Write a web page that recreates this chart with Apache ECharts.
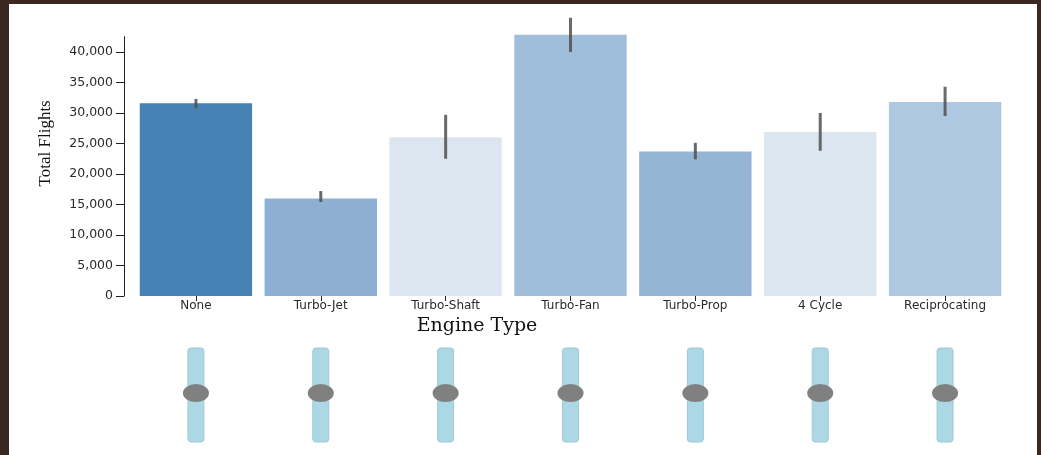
<!DOCTYPE html>
<html>
<head>
<meta charset="utf-8">
<script src="https://cdn.jsdelivr.net/npm/echarts@6/dist/echarts.min.js"></script>
<style>
  html, body { margin: 0; padding: 0; background: #3a2721; width: 1041px; height: 455px; overflow: hidden; }
  #panel { position: absolute; left: 9px; top: 4px; width: 1028px; height: 451px; background: #ffffff; }
  #chart { position: absolute; left: 0; top: 0; width: 1041px; height: 455px; }
</style>
</head>
<body>
<div id="panel"></div>
<div id="chart"></div>
<script>
// Flights per engine type, with the spread of each total
const engineTypes = ['None', 'Turbo-Jet', 'Turbo-Shaft', 'Turbo-Fan', 'Turbo-Prop', '4 Cycle', 'Reciprocating'];
const totalFlights = [31600, 16000, 26000, 42800, 23700, 26900, 31800];
const errorLow = [30800, 15400, 22500, 40000, 22400, 23800, 29500];
const errorHigh = [32300, 17200, 29700, 45600, 25100, 30000, 34300];
// Slider handle positions (0 = bottom, 1 = top)
const sliderPositions = [0.52, 0.52, 0.52, 0.52, 0.52, 0.52, 0.52];
// Y axis range and step
const yMax = 42500;
const yStep = 5000;

const barColors = ['#4682b4', '#8cafd2', '#dce6f0', '#9ebed9', '#94b5d4', '#dce6f0', '#adc8e0'];

const chart = echarts.init(document.getElementById('chart'), null, { renderer: 'canvas' });

const tickFont = { fontFamily: 'DejaVu Sans', fontSize: 12, color: '#2a2a2a' };

chart.setOption({
  backgroundColor: 'transparent',
  animation: false,
  grid: [
    { left: 133.5, right: 33.5, top: 36.7, bottom: 159, containLabel: false },
    { left: 133.5, right: 33.5, top: 348, bottom: 13, containLabel: false }
  ],
  xAxis: [
    {
      type: 'category',
      gridIndex: 0,
      data: engineTypes,
      name: 'Engine Type',
      nameLocation: 'middle',
      nameGap: 21,
      nameTextStyle: { fontFamily: 'DejaVu Serif', fontSize: 19, color: '#111', padding: [0, 187, 0, 0] },
      axisLine: { show: false },
      axisTick: { show: true, alignWithLabel: true, length: 5, lineStyle: { color: '#222' } },
      axisLabel: Object.assign({ margin: 4, interval: 0 }, tickFont),
      splitLine: { show: false }
    },
    {
      type: 'category',
      gridIndex: 1,
      data: engineTypes,
      show: false
    }
  ],
  yAxis: [
    {
      type: 'value',
      gridIndex: 0,
      min: 0,
      max: yMax,
      interval: yStep,
      offset: 9.5,
      name: 'Total Flights',
      nameLocation: 'middle',
      nameRotate: 90,
      nameGap: 70,
      nameTextStyle: { fontFamily: 'Liberation Serif', fontSize: 17, color: '#111', padding: [0, 0, 0, 46] },
      axisLine: { show: true, lineStyle: { color: '#222', width: 1 } },
      axisTick: { show: true, length: 8, lineStyle: { color: '#222' } },
      axisLabel: Object.assign({
        margin: 11,
        showMaxLabel: false,
        formatter: v => v.toLocaleString('en-US')
      }, tickFont, { fontSize: 12.5 }),
      splitLine: { show: false }
    },
    {
      type: 'value',
      gridIndex: 1,
      min: 0,
      max: 1,
      show: false
    }
  ],
  series: [
    {
      type: 'bar',
      xAxisIndex: 0,
      yAxisIndex: 0,
      barCategoryGap: '10%',
      clip: false,
      z: 2,
      data: totalFlights.map((v, i) => ({ value: v, itemStyle: { color: barColors[i] } }))
    },
    {
      type: 'custom',
      xAxisIndex: 0,
      yAxisIndex: 0,
      z: 5,
      data: engineTypes.map((_, i) => [i, errorLow[i], errorHigh[i]]),
      encode: { x: 0, y: [1, 2] },
      renderItem: (params, api) => {
        const lo = api.coord([api.value(0), api.value(1)]);
        const hi = api.coord([api.value(0), api.value(2)]);
        return {
          type: 'line',
          shape: { x1: lo[0], y1: lo[1], x2: hi[0], y2: hi[1] },
          style: { stroke: '#505050', lineWidth: 3, opacity: 0.85 }
        };
      }
    },
    {
      type: 'custom',
      xAxisIndex: 1,
      yAxisIndex: 1,
      data: sliderPositions.map((v, i) => [i, v]),
      encode: { x: 0, y: 1 },
      renderItem: (params, api) => {
        const i = api.value(0);
        const bottom = api.coord([i, 0]);
        const top = api.coord([i, 1]);
        const handle = api.coord([i, api.value(1)]);
        const w = 16;
        return {
          type: 'group',
          children: [
            {
              type: 'rect',
              shape: { x: bottom[0] - w / 2, y: top[1], width: w, height: bottom[1] - top[1], r: 3 },
              style: { fill: '#acd7e4', stroke: '#9fc9d6', lineWidth: 1 }
            },
            {
              type: 'circle',
              x: handle[0],
              y: handle[1],
              scaleX: 1.45,
              shape: { cx: 0, cy: 0, r: 9 },
              style: { fill: '#808080' }
            }
          ]
        };
      }
    }
  ]
});
</script>
</body>
</html>
